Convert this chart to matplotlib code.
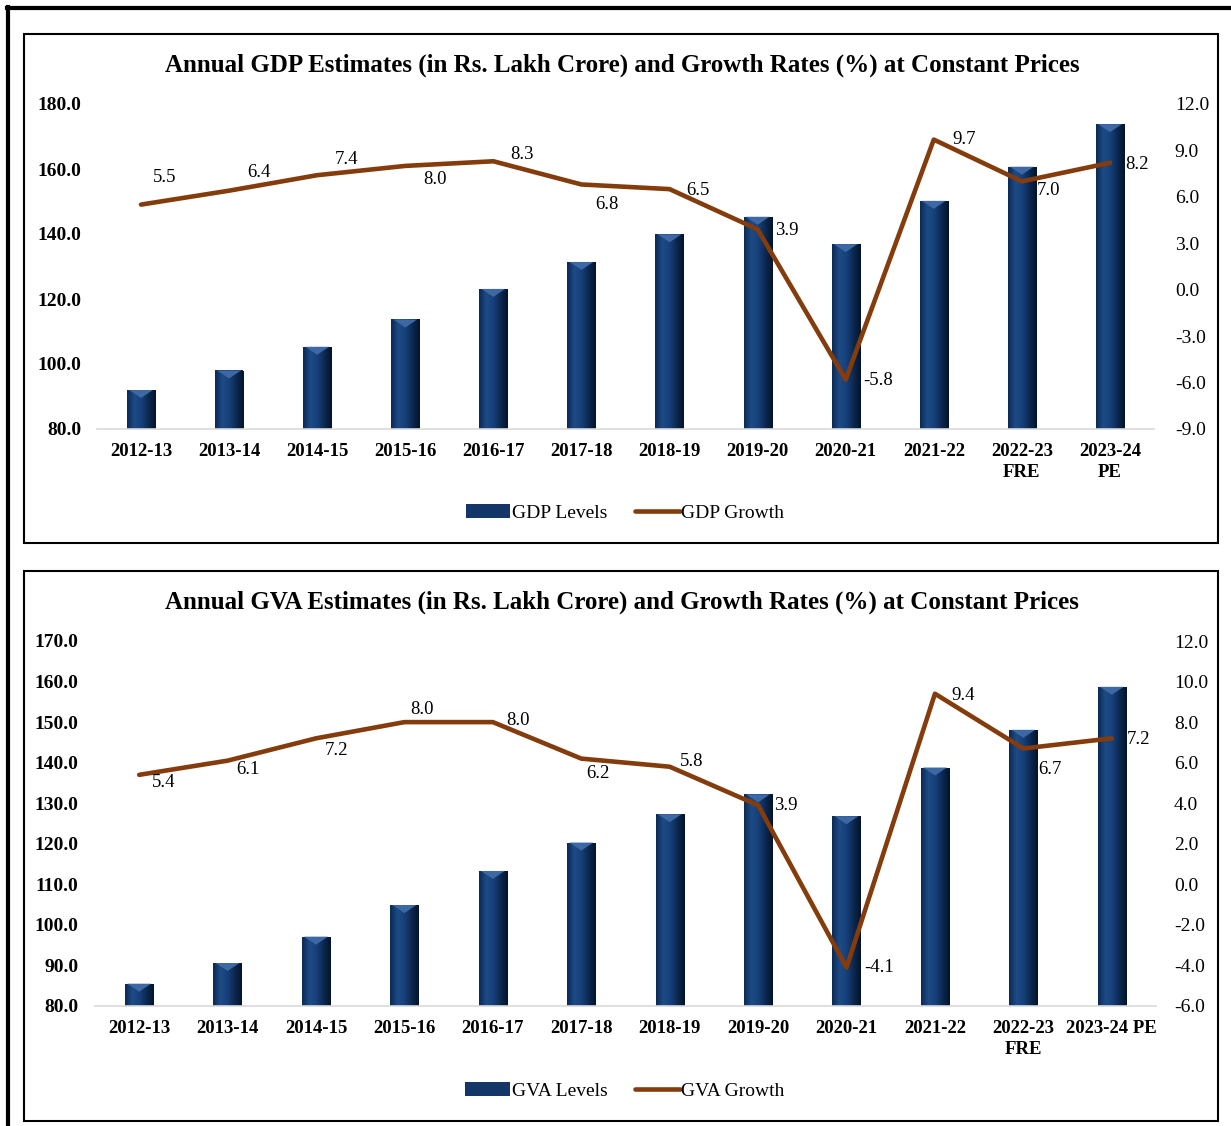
import matplotlib
matplotlib.use("Agg")
import matplotlib.pyplot as plt
import numpy as np
from matplotlib.colors import LinearSegmentedColormap
from matplotlib.lines import Line2D
from matplotlib.patches import Rectangle

plt.rcParams['font.family'] = ['Liberation Serif', 'DejaVu Serif']

# data
years_gdp = ['2012-13', '2013-14', '2014-15', '2015-16', '2016-17', '2017-18',
             '2018-19', '2019-20', '2020-21', '2021-22', '2022-23\nFRE', '2023-24\nPE']
years_gva = ['2012-13', '2013-14', '2014-15', '2015-16', '2016-17', '2017-18',
             '2018-19', '2019-20', '2020-21', '2021-22', '2022-23\nFRE', '2023-24 PE']
gdp_levels = [92.0, 98.0, 105.3, 113.7, 123.1, 131.4, 139.9, 145.3, 136.9, 150.2, 160.7, 173.8]
gdp_growth = [5.5, 6.4, 7.4, 8.0, 8.3, 6.8, 6.5, 3.9, -5.8, 9.7, 7.0, 8.2]
gva_levels = [85.5, 90.6, 97.1, 104.9, 113.3, 120.3, 127.3, 132.2, 126.8, 138.8, 148.1, 158.7]
gva_growth = [5.4, 6.1, 7.2, 8.0, 8.0, 6.2, 5.8, 3.9, -4.1, 9.4, 6.7, 7.2]

# label offsets from the point, in pixels (x right, y down)
gdp_lab_off = [(24, -27), (30, -18), (29, -16), (30, 14), (29, -7), (25, 20),
               (28, 1), (29, 1), (32, 1), (30, 0), (27, 9), (27, 2)]
gva_lab_off = [(24, 8), (20, 9), (20, 12), (18, -13), (25, -2), (17, 15),
               (22, -5), (28, 0), (33, 0), (28, 2), (27, 21), (27, 1)]

W, H = 1231, 1126
navy = '#123667'
brown = '#843C0C'
bar_cmap = LinearSegmentedColormap.from_list(
    'barg', ['#0b2a55', '#1d4b86', '#17407a', '#0c2850', '#04142a'])

fig = plt.figure(figsize=(W / 100, H / 100), dpi=100)


def fx(px):
    return px / W


def fy(py):
    return 1 - py / H


# outer frame and panel boxes
fig.add_artist(Line2D([fx(8), fx(8)], [fy(7), 0], color='black', lw=3, transform=fig.transFigure))
fig.add_artist(Line2D([fx(7), 1], [fy(8), fy(8)], color='black', lw=3, transform=fig.transFigure))
for top, bot in [(34, 543), (571, 1121)]:
    fig.add_artist(Rectangle((fx(24), fy(bot)), fx(1218) - fx(24), fy(top) - fy(bot),
                             fill=False, ec='black', lw=1.5, transform=fig.transFigure))


def panel(box, years, levels, growth, offs, ylim, yticks, y2lim, y2ticks,
          title, title_y, leg_y, names, lpad, rpad):
    x0, x1, ytop, ybot = box
    ax = fig.add_axes([fx(x0), fy(ybot), fx(x1) - fx(x0), fy(ytop) - fy(ybot)])
    x = np.arange(len(years))
    bars = ax.bar(x, levels, width=0.32, color=navy, zorder=2)
    grad = np.linspace(0, 1, 64).reshape(1, -1)
    tri_h = (ylim[1] - ylim[0]) / (ybot - ytop) * 8
    for b in bars:
        bx, bw, top = b.get_x(), b.get_width(), b.get_y() + b.get_height()
        im = ax.imshow(grad, cmap=bar_cmap, aspect='auto', zorder=2,
                       extent=[bx, bx + bw, ylim[0], top])
        im.set_clip_path(b)
        ax.fill([bx + bw * 0.08, bx + bw * 0.92, bx + bw / 2], [top, top, top - tri_h],
                color='#3d68a3', lw=0, zorder=2.5)
    ax.set_xlim(-0.5, len(years) - 0.5)
    ax.set_ylim(*ylim)
    ax.set_yticks(yticks)
    ax.set_yticklabels([f'{v:.1f}' for v in yticks], fontsize=14, fontweight='bold')
    ax.set_xticks(x)
    ax.set_xticklabels(years, fontsize=13.5, fontweight='bold', linespacing=1.3)
    ax.tick_params(axis='x', length=0, pad=10)
    ax.tick_params(axis='y', length=0, pad=lpad)
    for s in ['top', 'left', 'right']:
        ax.spines[s].set_visible(False)
    ax.spines['bottom'].set_color('#d9d9d9')
    ax.spines['bottom'].set_linewidth(1.2)

    ax2 = ax.twinx()
    line, = ax2.plot(x, growth, color=brown, lw=3.3, solid_capstyle='round',
                     solid_joinstyle='round', zorder=3)
    ax2.set_ylim(*y2lim)
    ax2.set_yticks(y2ticks)
    ax2.set_yticklabels([f'{v:.1f}' for v in y2ticks], fontsize=14)
    ax2.tick_params(axis='y', length=0, pad=rpad)
    for s in ['top', 'left', 'right', 'bottom']:
        ax2.spines[s].set_visible(False)
    for xi, v, (dx, dy) in zip(x, growth, offs):
        ax2.annotate(f'{v:.1f}', (xi, v), xytext=(dx * 0.72, -dy * 0.72),
                     textcoords='offset points', ha='center', va='center', fontsize=13.5)

    fig.text(fx(622), fy(title_y), title, ha='center', va='center',
             fontsize=18, fontweight='bold')
    fig.legend([bars, line], names, loc='center', bbox_to_anchor=(fx(625), fy(leg_y)),
               ncol=2, frameon=False, fontsize=14, handlelength=2.3,
               handletextpad=0.1, columnspacing=1.4)


panel((97, 1154, 104, 429), years_gdp, gdp_levels, gdp_growth, gdp_lab_off,
      (80, 180), np.arange(80, 181, 20), (-9, 12), np.arange(-9, 13, 3),
      'Annual GDP Estimates (in Rs. Lakh Crore) and Growth Rates (%) at Constant Prices',
      65, 513, ['GDP Levels', 'GDP Growth'], 11, 15)
panel((95, 1156, 641, 1006), years_gva, gva_levels, gva_growth, gva_lab_off,
      (80, 170), np.arange(80, 171, 10), (-6, 12), np.arange(-6, 13, 2),
      'Annual GVA Estimates (in Rs. Lakh Crore) and Growth Rates (%) at Constant Prices',
      602, 1091, ['GVA Levels', 'GVA Growth'], 12, 13)

fig.savefig('out.png', dpi=100)
